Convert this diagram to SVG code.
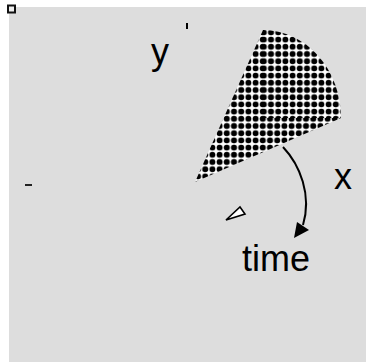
<svg xmlns="http://www.w3.org/2000/svg" width="366" height="362" viewBox="0 0 366 362">
  <defs>
    <!-- black dots on white for the wedge fill -->
    <pattern id="dots" patternUnits="userSpaceOnUse" width="7.2" height="7.2">
      <rect width="7.2" height="7.2" fill="#fff"/>
      <circle cx="3.6" cy="3.6" r="3" fill="#000"/>
    </pattern>
    <pattern id="dots2" patternUnits="userSpaceOnUse" width="7.2" height="7.2" x="1" y="0">
      <rect width="7.2" height="7.2" fill="#fff"/>
      <circle cx="3.6" cy="3.6" r="3" fill="#000"/>
    </pattern>
  </defs>
  <style>
    .lbl { font-family: "Liberation Sans", Arial, sans-serif; font-size: 36px; fill: #000; }
    .tick { stroke: #000; stroke-width: 2; fill: none; }
  </style>

  <!-- canvas -->
  <rect x="9" y="7" width="357" height="355" fill="#dddddd"/>
  <rect x="8" y="5.5" width="7" height="7" fill="#eeeeee" stroke="#111" stroke-width="2"/>

  <!-- dotted wedge: triangle plus rounded quarter -->
  <g id="wedge">
    <path d="M195,182 L263,30 L341,118 Z" fill="url(#dots)"/>
    <path d="M263,118 L263,30 A78,88 0 0 1 341,118 Z" fill="url(#dots2)"/>
  </g>

  <!-- small ticks -->
  <g id="ticks">
    <line class="tick" x1="187" y1="23" x2="187" y2="29"/>
    <line x1="25" y1="185" x2="32" y2="185" stroke="#222" stroke-width="2"/>
    <path d="M226,220 L240,207 L245,214 Z" fill="#fff" stroke="#000" stroke-width="1.6" stroke-linejoin="miter"/>
  </g>

  <!-- rotation arrow -->
  <g id="connectors">
    <path d="M283,147 C300,165 312,195 303,225" fill="none" stroke="#000" stroke-width="2"/>
    <polygon points="294,238 297,222 309,230" fill="#000"/>
  </g>

  <!-- labels -->
  <g id="label-y"><text class="lbl" x="151" y="64">y</text></g>
  <g id="label-x"><text class="lbl" x="334" y="189">x</text></g>
  <g id="label-time"><text class="lbl" x="242" y="271">time</text></g>
</svg>
